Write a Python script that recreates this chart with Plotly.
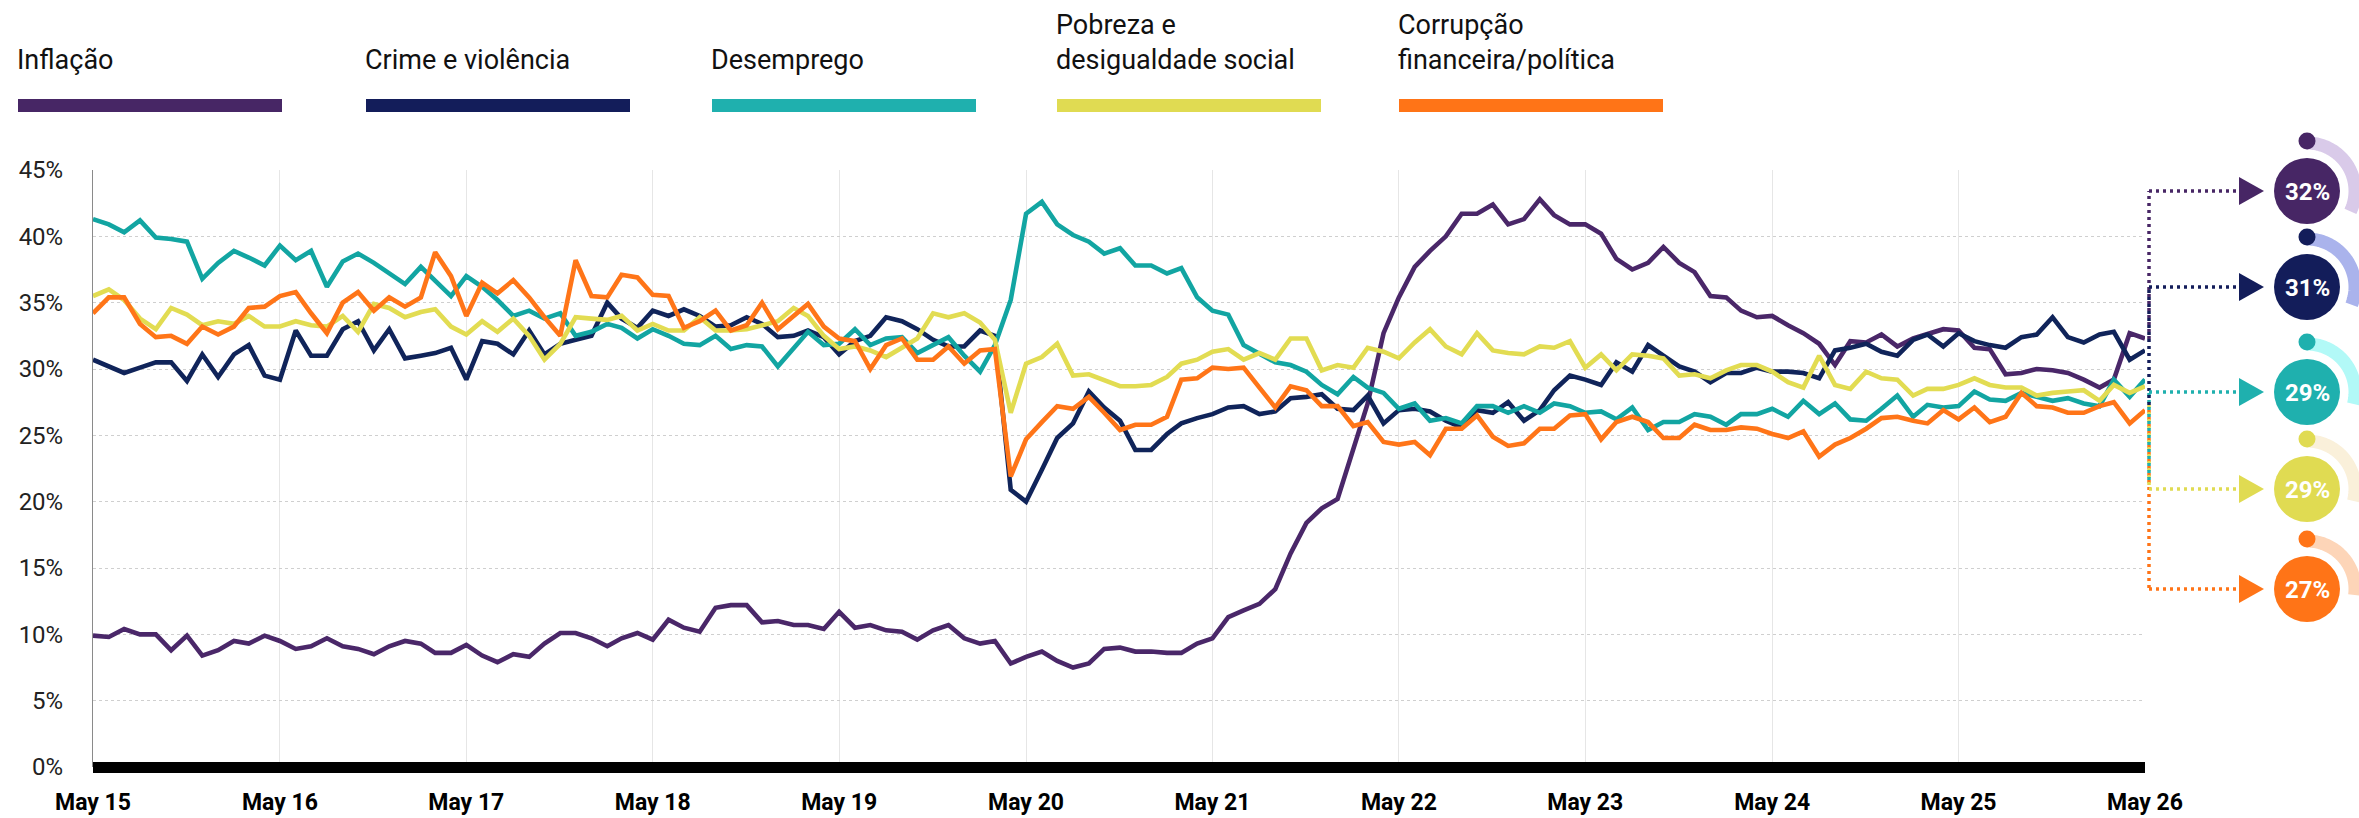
import math
import pandas as pd
import plotly.graph_objects as go

# ---------------- data ----------------
months = pd.date_range("2015-05-01", "2026-05-01", freq="MS")

series_names = ["Inflação", "Crime e violência", "Desemprego",
                "Pobreza e desigualdade social", "Corrupção financeira/política"]
legend_lines = [["Inflação"], ["Crime e violência"], ["Desemprego"],
                ["Pobreza e", "desigualdade social"], ["Corrupção", "financeira/política"]]

inflacao = [
    9.9, 9.8, 10.4, 10.0, 10.0, 8.8, 9.9, 8.4, 8.8, 9.5, 9.3, 9.9, 9.5, 8.9, 9.1, 9.7, 9.1, 8.9, 8.5, 9.1, 9.5, 9.3, 8.6,
    8.6, 9.2, 8.4, 7.9, 8.5, 8.3, 9.3, 10.1, 10.1, 9.7, 9.1, 9.7, 10.1, 9.6, 11.1, 10.5, 10.2, 12.0, 12.2, 12.2, 10.9, 11.0,
    10.7, 10.7, 10.4, 11.7, 10.5, 10.7, 10.3, 10.2, 9.6, 10.3, 10.7, 9.7, 9.3, 9.5, 7.8, 8.3, 8.7, 8.0, 7.5, 7.8, 8.9, 9.0,
    8.7, 8.7, 8.6, 8.6, 9.3, 9.7, 11.3, 11.8, 12.3, 13.4, 16.1, 18.4, 19.5, 20.2, 24.0, 27.4, 32.7, 35.4, 37.7, 38.9, 40.0, 41.7,
    41.7, 42.4, 40.9, 41.3, 42.8, 41.6, 40.9, 40.9, 40.2, 38.3, 37.5, 38.0, 39.2, 38.0, 37.3, 35.5, 35.4, 34.4, 33.9, 34.0, 33.3, 32.7,
    31.9, 30.3, 32.1, 32.0, 32.6, 31.7, 32.3, 32.6, 33.0, 32.9, 31.6, 31.5, 29.6, 29.7, 30.0, 29.9, 29.7, 29.2, 28.6, 29.2, 32.7, 32.3,
]
crime = [
    30.7, 30.2, 29.7, 30.1, 30.5, 30.5, 29.1, 31.1, 29.4, 31.1, 31.8, 29.5, 29.2, 32.9, 31.0, 31.0, 33.0, 33.6, 31.4, 33.0, 30.8, 31.0, 31.2,
    31.6, 29.2, 32.1, 31.9, 31.1, 32.9, 31.1, 31.9, 32.2, 32.5, 35.0, 33.8, 33.1, 34.4, 34.0, 34.5, 34.0, 33.2, 33.3, 33.9, 33.4, 32.4,
    32.5, 32.9, 32.4, 31.1, 32.1, 32.5, 33.9, 33.6, 33.0, 32.2, 31.7, 31.7, 32.9, 32.5, 20.9, 20.0, 22.4, 24.8, 25.9, 28.3, 27.1, 26.1,
    23.9, 23.9, 25.1, 25.9, 26.3, 26.6, 27.1, 27.2, 26.6, 26.8, 27.8, 27.9, 28.1, 27.0, 26.9, 28.0, 25.9, 26.9, 27.0, 26.8, 26.1, 25.6,
    26.9, 26.7, 27.5, 26.1, 26.9, 28.4, 29.5, 29.2, 28.8, 30.5, 29.8, 31.8, 31.0, 30.2, 29.8, 29.0, 29.7, 29.7, 30.1, 29.8, 29.8, 29.7,
    29.3, 31.4, 31.6, 31.9, 31.3, 31.0, 32.2, 32.6, 31.7, 32.7, 32.1, 31.8, 31.6, 32.4, 32.6, 33.9, 32.4, 32.0, 32.6, 32.8, 30.7, 31.4,
]
desemprego = [
    41.3, 40.9, 40.3, 41.2, 39.9, 39.8, 39.6, 36.8, 38.0, 38.9, 38.4, 37.8, 39.3, 38.2, 38.9, 36.2, 38.1, 38.7, 38.0, 37.2, 36.4, 37.7, 36.7,
    35.5, 37.0, 36.2, 35.2, 34.0, 34.4, 33.8, 34.2, 32.5, 32.8, 33.4, 33.1, 32.3, 33.0, 32.5, 31.9, 31.8, 32.5, 31.5, 31.8, 31.7, 30.2,
    31.5, 32.8, 31.8, 31.9, 33.0, 31.8, 32.3, 32.4, 31.2, 31.8, 32.4, 31.0, 29.8, 31.8, 35.2, 41.7, 42.6, 40.9, 40.1, 39.6, 38.7, 39.1,
    37.8, 37.8, 37.2, 37.6, 35.4, 34.4, 34.1, 31.8, 31.1, 30.5, 30.3, 29.8, 28.8, 28.1, 29.4, 28.6, 28.2, 27.0, 27.4, 26.1, 26.3, 25.9,
    27.2, 27.2, 26.7, 27.2, 26.7, 27.4, 27.2, 26.7, 26.8, 26.2, 27.1, 25.4, 26.0, 26.0, 26.6, 26.4, 25.8, 26.6, 26.6, 27.0, 26.4, 27.6,
    26.6, 27.4, 26.2, 26.1, 27.0, 28.0, 26.4, 27.3, 27.1, 27.2, 28.3, 27.7, 27.6, 28.2, 27.9, 27.6, 27.8, 27.4, 27.2, 29.2, 27.9, 29.2,
]
pobreza = [
    35.5, 36.0, 35.2, 33.8, 33.0, 34.6, 34.1, 33.3, 33.6, 33.4, 34.0, 33.2, 33.2, 33.6, 33.3, 33.2, 34.0, 32.8, 34.9, 34.6, 33.9, 34.3, 34.5,
    33.2, 32.6, 33.6, 32.8, 33.8, 32.5, 30.7, 31.9, 33.9, 33.8, 33.7, 34.0, 32.9, 33.4, 32.9, 32.9, 33.9, 32.9, 32.9, 33.0, 33.3, 33.6,
    34.6, 34.0, 32.5, 31.5, 31.7, 31.4, 30.9, 31.6, 32.3, 34.2, 33.9, 34.2, 33.5, 32.2, 26.7, 30.4, 30.9, 31.9, 29.5, 29.6, 29.2, 28.7,
    28.7, 28.8, 29.4, 30.4, 30.7, 31.3, 31.5, 30.7, 31.2, 30.7, 32.3, 32.3, 29.9, 30.3, 30.1, 31.6, 31.3, 30.8, 32.0, 33.0, 31.7, 31.1,
    32.7, 31.4, 31.2, 31.1, 31.7, 31.6, 32.1, 30.1, 31.1, 29.9, 31.1, 31.0, 30.8, 29.5, 29.6, 29.3, 29.9, 30.3, 30.3, 29.8, 29.0, 28.6,
    31.0, 28.8, 28.5, 29.8, 29.3, 29.2, 28.0, 28.5, 28.5, 28.8, 29.3, 28.8, 28.6, 28.6, 28.0, 28.2, 28.3, 28.4, 27.6, 28.8, 28.2, 28.7,
]
corrupcao = [
    34.2, 35.4, 35.4, 33.4, 32.4, 32.5, 31.9, 33.2, 32.6, 33.2, 34.6, 34.7, 35.5, 35.8, 34.2, 32.7, 35.0, 35.8, 34.4, 35.4, 34.7, 35.4, 38.8,
    37.0, 34.0, 36.5, 35.7, 36.7, 35.4, 33.9, 32.5, 38.2, 35.5, 35.4, 37.1, 36.9, 35.6, 35.5, 33.1, 33.6, 34.4, 32.9, 33.3, 35.0, 33.0,
    34.0, 34.9, 33.2, 32.3, 32.1, 30.0, 31.8, 32.3, 30.7, 30.7, 31.7, 30.4, 31.4, 31.5, 21.9, 24.7, 26.0, 27.2, 27.0, 27.9, 26.7, 25.4,
    25.8, 25.8, 26.4, 29.2, 29.3, 30.1, 30.0, 30.1, 28.6, 27.1, 28.7, 28.4, 27.2, 27.2, 25.7, 26.0, 24.5, 24.3, 24.5, 23.5, 25.5, 25.5,
    26.5, 24.9, 24.2, 24.4, 25.5, 25.5, 26.5, 26.6, 24.7, 26.0, 26.4, 26.0, 24.8, 24.8, 25.8, 25.4, 25.4, 25.6, 25.5, 25.1, 24.8, 25.3,
    23.4, 24.3, 24.8, 25.5, 26.3, 26.4, 26.1, 25.9, 26.9, 26.2, 27.1, 26.0, 26.4, 28.2, 27.2, 27.1, 26.7, 26.7, 27.2, 27.5, 25.9, 26.9,
]
end_labels = ["32%", "31%", "29%", "29%", "27%"]
y_ticks = [0, 5, 10, 15, 20, 25, 30, 35, 40, 45]
y_tick_text = ["0%", "5%", "10%", "15%", "20%", "25%", "30%", "35%", "40%", "45%"]

all_series = [inflacao, crime, desemprego, pobreza, corrupcao]

# ---------------- styles ----------------
line_colors = ["#4a2769", "#10245a", "#12a5a2", "#e2dc52", "#ff7518"]
legend_colors = ["#472665", "#131d5a", "#1fb0ae", "#e0db52", "#ff7417"]
arc_colors = ["#d9cae9", "#aab3ec", "#b2f9f7", "#faf0da", "#fdd5b8"]
FONT = "Roboto, Inter, sans-serif"

W, H = 2359, 818
L, R, T, B = 93, 214, 170, 51
PW, PH = W - L - R, H - T - B


def px(x):
    return (x - L) / PW


def py(y):
    return (H - B - y) / PH


fig = go.Figure()
for name, vals, col in zip(series_names, all_series, line_colors):
    fig.add_trace(go.Scatter(x=months, y=vals, mode="lines", name=name,
                             line=dict(color=col, width=4.6), hoverinfo="skip"))

shapes = []
annotations = []

# zero bar
shapes.append(dict(type="rect", xref="paper", yref="paper", x0=0, x1=1,
                   y0=py(773), y1=py(762), fillcolor="black", line=dict(width=0), layer="above"))

# legend
legend_x = [18, 366, 712, 1057, 1399]
for lx, lines, col in zip(legend_x, legend_lines, legend_colors):
    shapes.append(dict(type="rect", xref="paper", yref="paper", x0=px(lx), x1=px(lx + 264),
                       y0=py(112), y1=py(99), fillcolor=col, line=dict(width=0)))
    nl = len(lines)
    for j, txt in enumerate(lines):
        base = 60 - (nl - 1 - j) * 35
        annotations.append(dict(text=txt, xref="paper", yref="paper", x=px(lx - 3), y=py(base),
                                xanchor="left", yanchor="middle", align="left", showarrow=False,
                                font=dict(family=FONT, size=27, color="#111")))

# end badges
badge_y = [191, 287, 392, 489, 589]
conn_x = 2149
badge_cx = 2307
conn_spans = [(339, 191), (405, 287), (480, 392), (405, 489), (410, 589)]
for k in [4, 3, 2, 1, 0]:
    col = legend_colors[k]
    y0, y1 = conn_spans[k]
    dotted = dict(color=col, width=3.5, dash="3px,4px")
    shapes.append(dict(type="line", xref="paper", yref="paper", x0=px(conn_x), x1=px(conn_x),
                       y0=py(y0), y1=py(y1), line=dotted, layer="above"))
for k in range(5):
    col = legend_colors[k]
    cy = badge_y[k]
    dotted = dict(color=col, width=3.5, dash="3px,4px")
    shapes.append(dict(type="line", xref="paper", yref="paper", x0=px(conn_x), x1=px(2240),
                       y0=py(cy), y1=py(cy), line=dotted))
    path = "M {},{} L {},{} L {},{} Z".format(px(2239), py(cy - 14), px(2264), py(cy),
                                            px(2239), py(cy + 14))
    shapes.append(dict(type="path", xref="paper", yref="paper", path=path,
                       fillcolor=col, line=dict(width=0)))
    frac = float(end_labels[k].rstrip("%")) / 100.0
    r = 48
    pts = []
    n = 60
    for j in range(n + 1):
        th = 2 * math.pi * frac * j / n
        pts.append((px(badge_cx + r * math.sin(th)), py(cy - r * math.cos(th))))
    arc = "M " + " L ".join("{:.6f},{:.6f}".format(a, b) for a, b in pts)
    shapes.append(dict(type="path", xref="paper", yref="paper", path=arc,
                       line=dict(color=arc_colors[k], width=13)))
    shapes.append(dict(type="circle", xref="paper", yref="paper",
                       x0=px(badge_cx - 8.5), x1=px(badge_cx + 8.5),
                       y0=py(cy - 50 + 8.5), y1=py(cy - 50 - 8.5),
                       fillcolor=col, line=dict(width=0)))
    shapes.append(dict(type="circle", xref="paper", yref="paper",
                       x0=px(badge_cx - 33), x1=px(badge_cx + 33),
                       y0=py(cy + 33), y1=py(cy - 33),
                       fillcolor=col, line=dict(width=0)))
    annotations.append(dict(text="<b>" + end_labels[k] + "</b>", xref="paper", yref="paper",
                            x=px(badge_cx), y=py(cy + 1), xanchor="center", yanchor="middle",
                            showarrow=False, font=dict(family=FONT, size=24, color="white")))

fig.update_layout(
    width=W, height=H, autosize=False,
    margin=dict(l=L, r=R, t=T, b=B, pad=0, autoexpand=False),
    paper_bgcolor="white", plot_bgcolor="white",
    showlegend=False, hovermode=False,
    shapes=shapes, annotations=annotations,
    xaxis=dict(
        type="date", range=[months[0], months[-1]],
        tick0="2015-05-01", dtick="M12", tickformat="%b %y",
        showgrid=True, gridcolor="#e6e6e6", gridwidth=1,
        zeroline=False, showline=False, ticks="", automargin=False,
        tickfont=dict(family=FONT, size=23, color="#000", weight="bold"),
        ticklabelstandoff=19,
    ),
    yaxis=dict(
        range=[0, 45], tickvals=y_ticks, ticktext=y_tick_text,
        showgrid=True, gridcolor="#cfcfcf", griddash="dot", gridwidth=1,
        zeroline=False, showline=True, linecolor="#8a8a8a", linewidth=1, ticks="",
        automargin=False,
        tickfont=dict(family=FONT, size=24, color="#222"),
        ticklabelstandoff=24,
    ),
)

fig.write_html("out.html", config={"displayModeBar": False},
               post_script="document.body.style.margin='0';document.body.style.overflow='hidden';")
